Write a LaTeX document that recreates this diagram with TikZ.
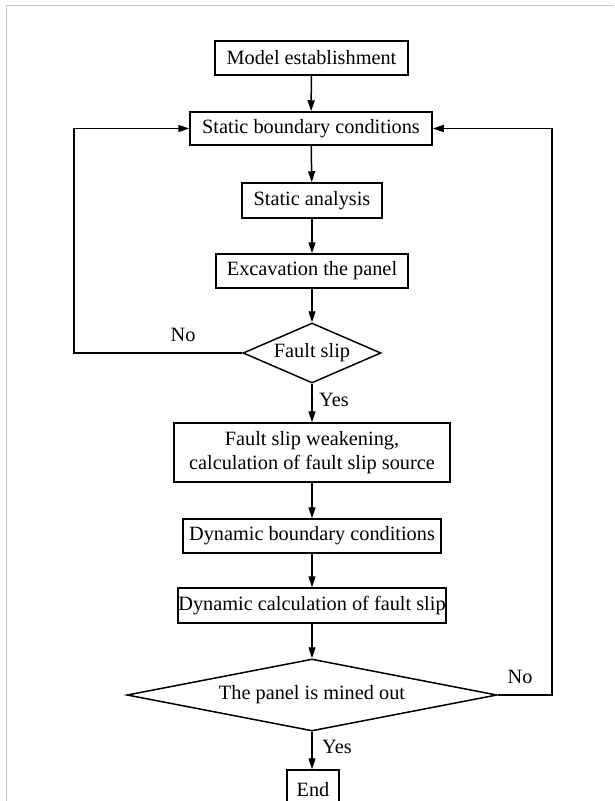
\documentclass[tikz,border=0pt]{standalone}
\usepackage{fontspec}
\setmainfont{Liberation Serif}
\usetikzlibrary{shapes.geometric,arrows.meta}
\begin{document}
\begin{tikzpicture}[x=1pt,y=-1pt,
  every node/.style={font=\fontsize{20.3}{23.5}\selectfont},
  boxnode/.style={draw,line width=1.5pt,inner sep=0pt,align=center,anchor=center},
  decnode/.style={draw,diamond,line width=1.5pt,inner sep=0pt,anchor=center},
  arr/.style={line width=1.5pt,-{Triangle[length=11pt,width=7pt]}},
  lbl/.style={inner sep=0pt}]
\useasboundingbox (0,0) rectangle (614,801);
\draw[gray!45,line width=1pt] (6.5,801) -- (6.5,5.5) -- (614,5.5);
\node[boxnode,minimum width=193pt,minimum height=34pt] (model) at (311.5,58) {Model establishment};
\node[boxnode,minimum width=242pt,minimum height=33pt] (sbc) at (311,128.5) {Static boundary conditions};
\node[boxnode,minimum width=140pt,minimum height=35pt] (sa) at (312,200.5) {Static analysis};
\node[boxnode,minimum width=192pt,minimum height=34pt] (exc) at (312,271) {Excavation the panel};
\node[decnode,aspect=2.3,minimum width=138pt,minimum height=60pt] (fs) at (312,353) {Fault slip};
\node[boxnode,minimum width=276pt,minimum height=59pt] (fsw) at (312,452.5) {Fault slip weakening,\\calculation of fault slip source};
\node[boxnode,minimum width=258pt,minimum height=34pt] (dbc) at (312,536) {Dynamic boundary conditions};
\node[boxnode,minimum width=268pt,minimum height=35pt] (dcf) at (312,605.5) {Dynamic calculation of fault slip};
\node[decnode,aspect=5.14,minimum width=370pt,minimum height=72pt] (mo) at (312,695) {The panel is mined out};
\node[boxnode,minimum width=52pt,minimum height=45pt] (end) at (313,792.5) {};
\node[lbl,anchor=base] (endtxt) at (313,796) {End};
\coordinate (L) at (74,0);
\coordinate (R) at (552,0);
\draw[arr] (model) -- (sbc);
\draw[arr] (sbc) -- (sa);
\draw[arr] (sa) -- (exc);
\draw[arr] (exc) -- (fs);
\draw[arr] (fs) -- (fsw);
\draw[arr] (fsw) -- (dbc);
\draw[arr] (dbc) -- (dcf);
\draw[arr] (dcf) -- (mo);
\draw[arr] (mo.south) -- (mo.south |- end.north);
\draw[arr] (fs.west) -- (fs.west -| L) -- (sbc.west -| L) -- (sbc.west);
\draw[arr] (mo.east) -- (mo.east -| R) -- (sbc.east -| R) -- (sbc.east);
\node[lbl] (no1) at (183,335) {No};
\node[lbl,anchor=west] (yes1) at (319,400) {Yes};
\node[lbl] (no2) at (520,677) {No};
\node[lbl,anchor=west] (yes2) at (322,747) {Yes};
\end{tikzpicture}
\end{document}
